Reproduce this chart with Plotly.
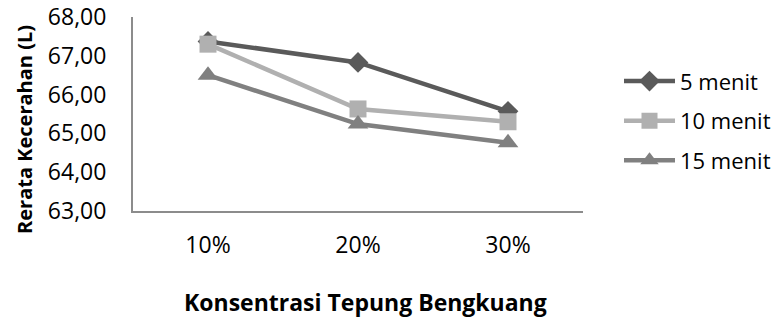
import plotly.graph_objects as go

categories = ["10%", "20%", "30%"]
series_names = ["5 menit", "10 menit", "15 menit"]
values_5 = [67.37, 66.83, 65.57]
values_10 = [67.30, 65.63, 65.30]
values_15 = [66.50, 65.24, 64.76]

colors = ["#5a5a5a", "#b0b0b0", "#808080"]
symbols = ["diamond", "square", "triangle-up"]
sizes = [16, 17, 18]

fig = go.Figure()
for i, (name, vals, c, s, sz) in enumerate(zip(series_names, [values_5, values_10, values_15], colors, symbols, sizes)):
    fig.add_trace(go.Scatter(
        x=categories, y=vals, name=name, mode="lines+markers",
        line=dict(color=c, width=4.5),
        marker=dict(symbol=s, size=sz, color=c),
        legendgroup=f"g{i}",
    ))

font_family = "Open Sans, Noto Sans, sans-serif"
fig.update_layout(
    width=780, height=325,
    margin=dict(l=133, r=197, t=17, b=114, autoexpand=False),
    paper_bgcolor="white", plot_bgcolor="white",
    font=dict(family=font_family, size=23, color="#000000"),
    separators=",.",
    showlegend=True,
    legend=dict(
        x=1.08, xanchor="left", y=0.465, yanchor="middle",
        font=dict(size=22), tracegroupgap=8, itemwidth=51,
        bgcolor="rgba(0,0,0,0)",
    ),
    xaxis=dict(
        type="category", range=[-0.5, 2.5],
        showline=True, linecolor="#8c8c8c", linewidth=2,
        showgrid=False, zeroline=False, ticks="",
        ticklabelstandoff=12,
    ),
    yaxis=dict(
        range=[63, 68], dtick=1, tickformat=".2f",
        showline=True, linecolor="#8c8c8c", linewidth=2,
        showgrid=False, zeroline=False, ticks="",
        ticklabelstandoff=20,
    ),
    annotations=[
        dict(text="<b>Konsentrasi Tepung Bengkuang</b>", xref="paper", yref="paper",
             x=0.516, y=-0.469, xanchor="center", yanchor="middle", showarrow=False,
             font=dict(size=23)),
        dict(text="<b>Rerata Kecerahan (L)</b>", xref="paper", yref="paper",
             x=-0.24, y=0.418, xanchor="center", yanchor="middle", showarrow=False,
             textangle=-90, font=dict(size=20)),
    ],
)

fig.write_html("out.html")
